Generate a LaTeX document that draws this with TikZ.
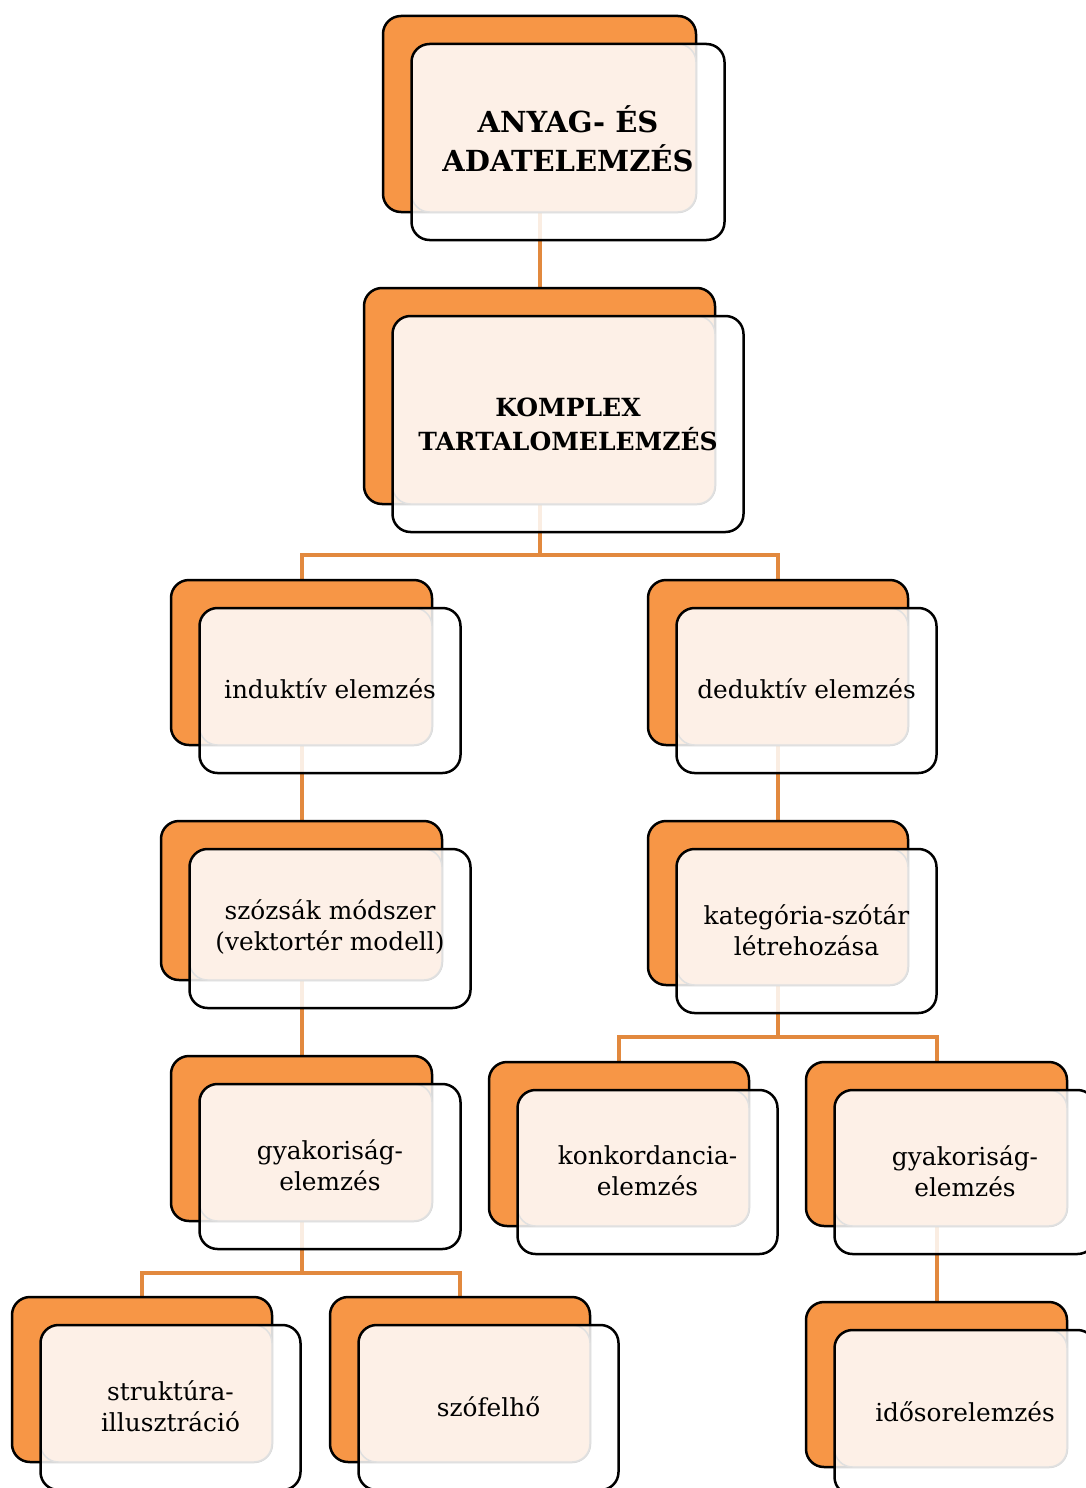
\documentclass[tikz,border=0pt]{standalone}
\usepackage{fontspec}
\setmainfont{DejaVu Serif}
\usetikzlibrary{backgrounds}
\definecolor{org}{HTML}{F79646}
\definecolor{connc}{HTML}{E2893E}
\definecolor{peach}{HTML}{FDF1E8}
\tikzset{
  back/.style={rectangle, draw=black, line width=2.5pt, fill=org, rounded corners=18pt, outer sep=0pt, inner sep=0pt},
  front/.style={rectangle, fill=white, fill opacity=0.85, rounded corners=18pt, outer sep=0pt, inner sep=0pt},
  frontedge/.style={rectangle, draw=black, line width=2.5pt, rounded corners=18pt, outer sep=0pt, inner sep=0pt},
  peachbox/.style={fill=peach, fill opacity=0.9, draw=black!12, line width=1.5pt, rounded corners=18pt},
  txt/.style={align=center, font=\fontsize{24.8}{31}\selectfont, inner sep=0pt},
  ttla/.style={align=center, font=\fontsize{29}{39}\selectfont\bfseries, inner sep=0pt},
  ttlb/.style={align=center, font=\fontsize{25}{34}\selectfont\bfseries, inner sep=0pt},
  connector/.style={draw=connc, line width=4pt},
}
\newcommand\mkbox[8]{%
  \node[back, minimum width=#4pt, minimum height=#5pt] (#1) at (#2,#3) {};
  \node[front, minimum width=#4pt, minimum height=#5pt] (#1f) at (#2+28.5,#3+28) {};
  \path[peachbox] (#1f.north west) rectangle (#1.south east);
  \node[frontedge, minimum width=#4pt, minimum height=#5pt] (#1e) at (#1f.center) {};
  \node[#6] (#1t) at (#2+28.5,#3+28+#7) {#8};
}
\begin{document}
\begin{tikzpicture}[x=1pt,y=-1pt]
\useasboundingbox (0,0) rectangle (1086,1488);
\mkbox{A}{539.5}{114}{313}{196}{ttla}{-3}{ANYAG- ÉS\\ADATELEMZÉS}
\mkbox{B}{539.5}{396}{351}{216}{ttlb}{0}{KOMPLEX\\TARTALOMELEMZÉS}
\mkbox{C}{301.5}{662.5}{261}{165}{txt}{-1.5}{induktív elemzés}
\mkbox{D}{778}{662.5}{260}{165}{txt}{-1.5}{deduktív elemzés}
\mkbox{E}{301.5}{900.5}{281}{159}{txt}{-1}{szózsák módszer\\(vektortér modell)}
\mkbox{F}{778}{903}{260}{164}{txt}{-1}{kategória-szótár\\létrehozása}
\mkbox{G}{301.5}{1138.5}{261}{165}{txt}{-1}{gyakoriság-\\elemzés}
\mkbox{H}{619}{1144}{260}{164}{txt}{-1}{konkordancia-\\elemzés}
\mkbox{I}{936.5}{1144}{261}{164}{txt}{-1}{gyakoriság-\\elemzés}
\mkbox{J}{142}{1379.5}{260}{165}{txt}{-1}{struktúra-\\illusztráció}
\mkbox{K}{460}{1379.5}{260}{165}{txt}{-1}{szófelhő}
\mkbox{L}{936.5}{1384.5}{261}{165}{txt}{-1}{idősorelemzés}
\coordinate (j1) at (539.5,555);
\coordinate (j2) at (778,1037);
\coordinate (j3) at (301.5,1273);
\begin{scope}[on background layer]
  \fill[white] (0,0) rectangle (1086,1488);
  \draw[connector] (A.center) -- (B.center);
  \draw[connector] (B.center) -- (j1) -| (C.center);
  \draw[connector] (j1) -| (D.center);
  \draw[connector] (C.center) -- (E.center);
  \draw[connector] (E.center) -- (G.center);
  \draw[connector] (D.center) -- (F.center);
  \draw[connector] (F.center) -- (j2) -| (H.center);
  \draw[connector] (j2) -| (I.center);
  \draw[connector] (G.center) -- (j3) -| (J.center);
  \draw[connector] (j3) -| (K.center);
  \draw[connector] (I.center) -- (L.center);
\end{scope}
\end{tikzpicture}
\end{document}
